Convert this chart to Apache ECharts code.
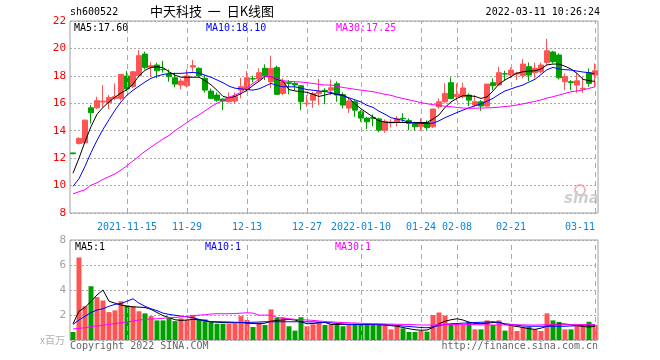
<!DOCTYPE html>
<html>
<head>
<meta charset="utf-8">
<script src="https://cdn.jsdelivr.net/npm/echarts@6/dist/echarts.min.js"></script>
<style>html,body{margin:0;padding:0;background:#fff;}#c{width:660px;height:360px;}</style>
</head>
<body>
<div id="c"></div>
<script>
const dates = [
'2021-11-02','2021-11-03','2021-11-04','2021-11-05','2021-11-08','2021-11-09','2021-11-10','2021-11-11','2021-11-12','2021-11-15',
'2021-11-16','2021-11-17','2021-11-18','2021-11-19','2021-11-22','2021-11-23','2021-11-24','2021-11-25','2021-11-26','2021-11-29',
'2021-11-30','2021-12-01','2021-12-02','2021-12-03','2021-12-06','2021-12-07','2021-12-08','2021-12-09','2021-12-10','2021-12-13',
'2021-12-14','2021-12-15','2021-12-16','2021-12-17','2021-12-20','2021-12-21','2021-12-22','2021-12-23','2021-12-24','2021-12-27',
'2021-12-28','2021-12-29','2021-12-30','2021-12-31','2022-01-04','2022-01-05','2022-01-06','2022-01-07','2022-01-10','2022-01-11',
'2022-01-12','2022-01-13','2022-01-14','2022-01-17','2022-01-18','2022-01-19','2022-01-20','2022-01-21','2022-01-24','2022-01-25',
'2022-01-26','2022-01-27','2022-01-28','2022-02-07','2022-02-08','2022-02-09','2022-02-10','2022-02-11','2022-02-14','2022-02-15',
'2022-02-16','2022-02-17','2022-02-18','2022-02-21','2022-02-22','2022-02-23','2022-02-24','2022-02-25','2022-02-28','2022-03-01',
'2022-03-02','2022-03-03','2022-03-04','2022-03-07','2022-03-08','2022-03-09','2022-03-10','2022-03-11'];

const opens = [
12.38,13.07,13.12,15.67,15.67,16.09,16.04,16.36,16.36,17.99,
17.21,18.01,19.59,18.62,18.79,18.48,18.13,17.86,17.33,17.28,
18.64,18.55,17.82,16.89,16.60,16.31,16.11,16.16,16.96,17.04,
17.80,17.77,18.55,17.57,18.60,16.72,17.50,17.45,17.28,15.97,
16.23,16.70,16.94,16.96,17.42,16.62,15.65,16.11,15.38,14.92,
14.97,14.86,14.04,14.57,14.60,14.91,14.74,14.53,14.29,14.60,
14.29,15.75,16.11,17.50,16.48,16.48,16.60,15.87,16.11,15.80,
17.50,17.33,18.15,18.06,18.13,18.01,18.67,18.23,18.30,18.98,
19.74,19.52,17.57,17.57,17.33,17.05,18.23,18.06];
const closes = [
12.32,13.44,14.77,15.31,16.19,16.16,16.43,16.48,18.11,17.04,
18.30,19.47,18.62,18.74,18.37,18.45,17.94,17.40,17.62,17.99,
18.74,18.01,16.96,16.36,16.23,16.16,16.40,16.48,17.21,17.86,
17.77,18.23,18.01,18.55,16.65,17.57,17.45,17.33,16.11,16.01,
16.72,16.85,16.89,17.13,16.60,15.87,16.17,15.50,14.92,14.65,
14.90,14.04,14.68,14.63,14.87,14.87,14.53,14.29,14.60,14.22,
15.58,16.11,16.72,16.35,16.65,17.11,16.23,16.11,15.80,17.40,
17.28,18.23,18.13,18.42,18.20,18.86,18.06,18.55,18.79,19.83,
19.03,17.86,17.94,17.52,17.64,17.10,17.45,18.37];
const lows = [
12.30,13.00,13.05,14.53,15.58,15.68,15.58,16.23,16.20,16.89,
17.10,17.90,18.47,17.94,17.82,18.23,17.57,17.16,17.01,17.16,
18.30,17.94,16.79,16.31,16.11,15.50,16.06,15.99,16.36,16.84,
17.52,17.57,17.69,17.09,16.60,16.60,16.65,16.96,15.50,15.75,
15.67,15.87,15.95,16.60,16.11,15.63,15.30,15.01,14.65,14.12,
14.32,13.90,13.85,14.24,14.32,14.65,14.04,14.00,14.00,14.04,
14.20,15.60,16.00,16.30,16.20,16.35,15.80,15.75,15.45,15.75,
16.96,17.33,17.69,17.82,17.70,17.82,17.62,17.82,18.18,18.79,
18.91,17.74,16.96,16.96,16.77,16.77,17.20,17.20];
const highs = [
12.40,13.53,14.80,15.87,16.48,17.33,16.60,17.45,18.13,18.35,
18.35,19.88,19.76,19.00,18.96,19.10,18.47,18.23,17.81,18.47,
19.15,18.62,18.06,17.08,16.79,16.36,16.79,16.79,17.86,18.35,
18.01,18.55,18.84,19.47,18.74,17.82,17.69,17.57,17.33,16.60,
16.84,17.78,17.10,17.75,17.60,16.80,16.42,16.23,15.50,15.01,
15.18,14.95,14.82,14.84,15.06,15.28,14.90,14.65,14.90,14.75,
15.60,16.35,17.45,17.90,17.45,17.50,16.72,16.60,16.23,17.40,
17.82,18.67,18.37,18.62,18.30,19.23,18.98,18.98,18.98,20.69,
19.83,19.64,18.18,17.69,18.18,17.94,18.54,18.91];
const volumes = [
0.64,6.60,2.70,4.30,3.43,3.16,2.23,2.37,3.10,2.77,
2.70,2.30,2.13,1.91,1.57,1.57,1.78,1.51,1.73,1.60,
1.99,1.65,1.65,1.46,1.30,1.30,1.30,1.33,1.91,1.60,
1.04,1.38,1.20,2.45,1.78,1.82,1.10,0.75,1.82,1.10,
1.25,1.46,1.20,1.25,1.30,1.10,1.20,1.30,1.20,1.20,
1.30,1.20,1.25,0.85,1.10,0.93,0.64,0.64,0.72,0.67,
2.00,2.20,1.96,1.25,1.30,1.20,1.46,0.85,0.85,1.57,
1.20,1.57,0.75,1.10,0.72,1.04,1.04,0.85,0.72,2.13,
1.57,1.44,0.85,0.85,1.20,1.10,1.46,1.20];
const ma5 = [
10.9,12.0,13.2,14.3,15.2,15.7,16.1,16.45,16.75,17.0,
17.4,18.0,18.4,18.62,18.66,18.6,18.3,18.05,17.9,17.9,
17.9,17.9,17.65,17.35,16.95,16.5,16.4,16.5,16.7,16.95,
17.3,17.6,17.95,17.95,17.75,17.6,17.0,16.9,16.85,16.8,
16.65,16.5,16.6,16.72,16.65,16.6,16.36,15.95,15.6,15.3,
15.0,14.72,14.62,14.6,14.6,14.6,14.6,14.6,14.6,14.6,
14.85,15.15,15.7,16.1,16.36,16.55,16.55,16.5,16.35,16.47,
16.9,17.4,17.7,17.94,18.2,18.3,18.35,18.37,18.5,18.8,
18.86,18.86,18.7,18.5,18.18,17.75,17.64,17.6];
const ma10 = [
9.95,10.5,11.4,12.4,13.3,14.1,14.8,15.5,16.1,16.6,
16.95,17.25,17.55,17.82,17.98,18.1,18.17,18.18,18.18,18.22,
18.25,18.2,18.05,17.9,17.7,17.5,17.25,17.1,17.05,17.0,
16.96,17.05,17.25,17.45,17.3,17.2,17.2,17.2,17.1,17.0,
16.95,16.9,16.85,16.79,16.65,16.55,16.4,16.25,16.1,15.85,
15.7,15.42,15.2,14.95,14.85,14.75,14.62,14.56,14.53,14.53,
14.55,14.72,14.95,15.14,15.33,15.5,15.67,15.82,15.96,16.15,
16.36,16.65,16.9,17.05,17.2,17.33,17.55,17.75,18.1,18.45,
18.62,18.5,18.45,18.42,18.35,18.28,18.23,18.15];
const ma30 = [
9.4,9.55,9.7,10.03,10.2,10.45,10.65,10.85,11.13,11.45,
11.8,12.15,12.5,12.8,13.1,13.4,13.65,14.0,14.3,14.6,
14.9,15.15,15.45,15.75,16.0,16.2,16.45,16.6,16.8,17.15,
17.45,17.75,17.94,17.94,17.8,17.65,17.6,17.57,17.55,17.5,
17.45,17.38,17.33,17.33,17.25,17.15,17.09,17.02,16.96,16.9,
16.85,16.75,16.65,16.58,16.45,16.35,16.25,16.15,16.05,15.97,
15.9,15.85,15.78,15.75,15.7,15.65,15.64,15.64,15.65,15.67,
15.68,15.72,15.76,15.8,15.88,15.96,16.05,16.14,16.25,16.38,
16.48,16.6,16.72,16.84,16.9,16.97,17.09,17.2];
const vma5 = [
1.3,2.3,2.6,3.1,3.6,4.0,3.1,2.95,2.8,2.7,
2.65,2.63,2.6,2.45,2.2,1.95,1.8,1.62,1.57,1.6,
1.65,1.62,1.55,1.46,1.42,1.4,1.38,1.38,1.4,1.35,
1.32,1.3,1.35,1.5,1.57,1.6,1.65,1.6,1.45,1.3,
1.32,1.38,1.4,1.25,1.25,1.25,1.25,1.25,1.25,1.25,
1.25,1.22,1.2,1.15,1.1,1.0,0.9,0.82,0.78,0.8,
1.0,1.3,1.5,1.62,1.7,1.6,1.42,1.32,1.3,1.35,
1.4,1.42,1.25,1.15,1.08,1.0,0.9,0.85,0.95,1.1,
1.2,1.28,1.28,1.22,1.15,1.08,1.04,1.1];
const vma10 = [
1.25,1.6,1.9,2.2,2.4,2.5,2.7,2.85,2.92,3.1,
3.3,2.95,2.7,2.5,2.35,2.15,2.05,1.98,1.91,1.85,
1.78,1.65,1.55,1.46,1.46,1.45,1.44,1.42,1.4,1.4,
1.42,1.44,1.46,1.46,1.46,1.46,1.46,1.46,1.46,1.45,
1.45,1.42,1.4,1.38,1.33,1.28,1.25,1.25,1.25,1.25,
1.25,1.25,1.23,1.2,1.17,1.12,1.08,1.04,1.0,0.98,
1.05,1.15,1.25,1.3,1.32,1.35,1.37,1.4,1.42,1.44,
1.46,1.4,1.3,1.25,1.18,1.12,1.1,1.1,1.1,1.1,
1.1,1.1,1.1,1.12,1.15,1.18,1.2,1.2];
const vma30 = [
0.88,0.93,0.98,1.08,1.12,1.18,1.25,1.32,1.38,1.45,
1.52,1.6,1.65,1.68,1.7,1.74,1.78,1.8,1.85,1.9,
1.95,1.99,2.02,2.08,2.1,2.1,2.1,2.12,2.15,2.18,
2.15,1.99,1.99,1.99,1.8,1.75,1.7,1.65,1.62,1.6,
1.57,1.52,1.48,1.45,1.42,1.4,1.38,1.36,1.34,1.32,
1.3,1.3,1.28,1.27,1.26,1.25,1.24,1.22,1.2,1.2,
1.2,1.22,1.23,1.24,1.25,1.25,1.24,1.23,1.22,1.21,
1.2,1.2,1.21,1.22,1.22,1.21,1.2,1.2,1.21,1.22,
1.23,1.22,1.22,1.22,1.23,1.24,1.25,1.25];

const tickDates = ['2021-11-15','2021-11-29','2021-12-13','2021-12-27','2022-01-10','2022-01-24','2022-02-08','2022-02-21','2022-03-11'];
const tickTexts = ['2021-11-15','11-29','12-13','12-27','2022-01-10','01-24','02-08','02-21','03-11'];
const priceLegend = ['MA5:17.60','MA10:18.10','MA30:17.25'];
const volLegend = ['MA5:1','MA10:1','MA30:1'];
const symbolText = 'sh600522';
const titleText = '中天科技  一  日K线图';
const timeText = '2022-03-11 10:26:24';

const RED = '#ff5454', GREEN = '#00a000';
const MONO = 'DejaVu Sans Mono';
const chart = echarts.init(document.getElementById('c'), null, {renderer: 'canvas'});

const vLines = {
  silent: true, symbol: ['none', 'none'], label: {show: false},
  lineStyle: {color: '#aaaaaa', type: [5, 4], width: 1},
  emphasis: {disabled: true},
  data: tickDates.map(d => ({xAxis: d}))
};
const lastDate = dates[dates.length - 1];

const option = {
  animation: false,
  backgroundColor: '#ffffff',
  grid: [
    {left: 70, top: 21, width: 528, height: 192, show: true, borderColor: '#a0a0a0', borderWidth: 1},
    {left: 70, top: 240, width: 528, height: 100, show: true, borderColor: '#a0a0a0', borderWidth: 1}
  ],
  xAxis: [
    {type: 'category', gridIndex: 0, data: dates, boundaryGap: true,
     axisLine: {show: false}, axisTick: {show: false}, splitLine: {show: false},
     axisLabel: {
       interval: (i, v) => tickDates.indexOf(v) >= 0,
       formatter: v => { const t = tickTexts[tickDates.indexOf(v)]; return v === lastDate ? t + '     ' : t; },
       color: '#0a86d9', fontFamily: MONO, fontSize: 10, margin: 9
     }},
    {type: 'category', gridIndex: 1, data: dates, boundaryGap: true,
     axisLine: {show: false}, axisTick: {show: false}, splitLine: {show: false}, axisLabel: {show: false}}
  ],
  yAxis: [
    {type: 'value', gridIndex: 0, min: 8, max: 22, interval: 2,
     axisLine: {show: false}, axisTick: {show: false},
     splitLine: {lineStyle: {color: '#a8a8a8', type: [2, 2]}},
     axisLabel: {color: '#ff0000', fontFamily: MONO, fontSize: 11, margin: 4}},
    {type: 'value', gridIndex: 1, min: 0, max: 8, interval: 2,
     axisLine: {show: false}, axisTick: {show: false},
     splitLine: {lineStyle: {color: '#a8a8a8', type: [2, 2]}},
     axisLabel: {color: '#a0a0a0', fontFamily: MONO, fontSize: 11, margin: 4, formatter: v => v === 0 ? '' : String(v)}}
  ],
  series: [
    {type: 'candlestick', xAxisIndex: 0, yAxisIndex: 0, barWidth: 5,
     data: dates.map((d, i) => [opens[i], closes[i], lows[i], highs[i]]),
     itemStyle: {color: RED, color0: GREEN, borderColor: RED, borderColor0: GREEN, borderWidth: 1},
     markLine: vLines},
    {type: 'line', xAxisIndex: 0, yAxisIndex: 0, data: ma5, showSymbol: false, lineStyle: {color: '#000000', width: 1}, z: 5},
    {type: 'line', xAxisIndex: 0, yAxisIndex: 0, data: ma10, showSymbol: false, lineStyle: {color: '#0000ff', width: 1}, z: 5},
    {type: 'line', xAxisIndex: 0, yAxisIndex: 0, data: ma30, showSymbol: false, lineStyle: {color: '#ff00ff', width: 1}, z: 5},
    {type: 'bar', xAxisIndex: 1, yAxisIndex: 1, barWidth: 5,
     data: volumes.map((v, i) => ({value: v, itemStyle: {color: closes[i] >= opens[i] ? RED : GREEN}})),
     markLine: vLines},
    {type: 'line', xAxisIndex: 1, yAxisIndex: 1, data: vma5, showSymbol: false, lineStyle: {color: '#000000', width: 1}, z: 5},
    {type: 'line', xAxisIndex: 1, yAxisIndex: 1, data: vma10, showSymbol: false, lineStyle: {color: '#0000ff', width: 1}, z: 5},
    {type: 'line', xAxisIndex: 1, yAxisIndex: 1, data: vma30, showSymbol: false, lineStyle: {color: '#ff00ff', width: 1}, z: 5}
  ],
  graphic: [
    {type: 'text', left: 70, top: 7, style: {text: symbolText, font: '10px "DejaVu Sans Mono"', fill: '#000'}},
    {type: 'text', left: 150, top: 5, style: {text: titleText, font: '13px "Noto Sans CJK SC"', fill: '#000'}},
    {type: 'text', right: 60, top: 7, style: {text: timeText, font: '10px "DejaVu Sans Mono"', fill: '#000'}},
    {type: 'text', left: 74, top: 23, z: 20, style: {text: priceLegend[0], font: '10px "DejaVu Sans Mono"', fill: '#000'}},
    {type: 'text', left: 206, top: 23, z: 20, style: {text: priceLegend[1], font: '10px "DejaVu Sans Mono"', fill: '#0000ff'}},
    {type: 'text', left: 336, top: 23, z: 20, style: {text: priceLegend[2], font: '10px "DejaVu Sans Mono"', fill: '#ff00ff'}},
    {type: 'text', left: 75, top: 242, z: 20, style: {text: volLegend[0], font: '10px "DejaVu Sans Mono"', fill: '#000'}},
    {type: 'text', left: 205, top: 242, z: 20, style: {text: volLegend[1], font: '10px "DejaVu Sans Mono"', fill: '#0000ff'}},
    {type: 'text', left: 335, top: 242, z: 20, style: {text: volLegend[2], font: '10px "DejaVu Sans Mono"', fill: '#ff00ff'}},
    {type: 'text', left: 40, top: 335, style: {text: 'x百万', font: '10px "Noto Sans CJK SC"', fill: '#b0b0b0'}},
    {type: 'text', left: 70, top: 341, style: {text: 'Copyright 2022 SINA.COM', font: '10px "DejaVu Sans Mono"', fill: '#666'}},
    {type: 'text', right: 62, top: 341, style: {text: 'http://finance.sina.com.cn', font: '10px "DejaVu Sans Mono"', fill: '#666'}},
    {type: 'circle', shape: {cx: 580, cy: 190, r: 5}, style: {fill: 'none', stroke: '#f2b4b4', lineWidth: 2}},
    {type: 'text', left: 564, top: 192, style: {text: 'sina', font: 'italic bold 15px "DejaVu Sans"', fill: '#cfcfcf'}}
  ]
};
chart.setOption(option);
</script>
</body>
</html>
